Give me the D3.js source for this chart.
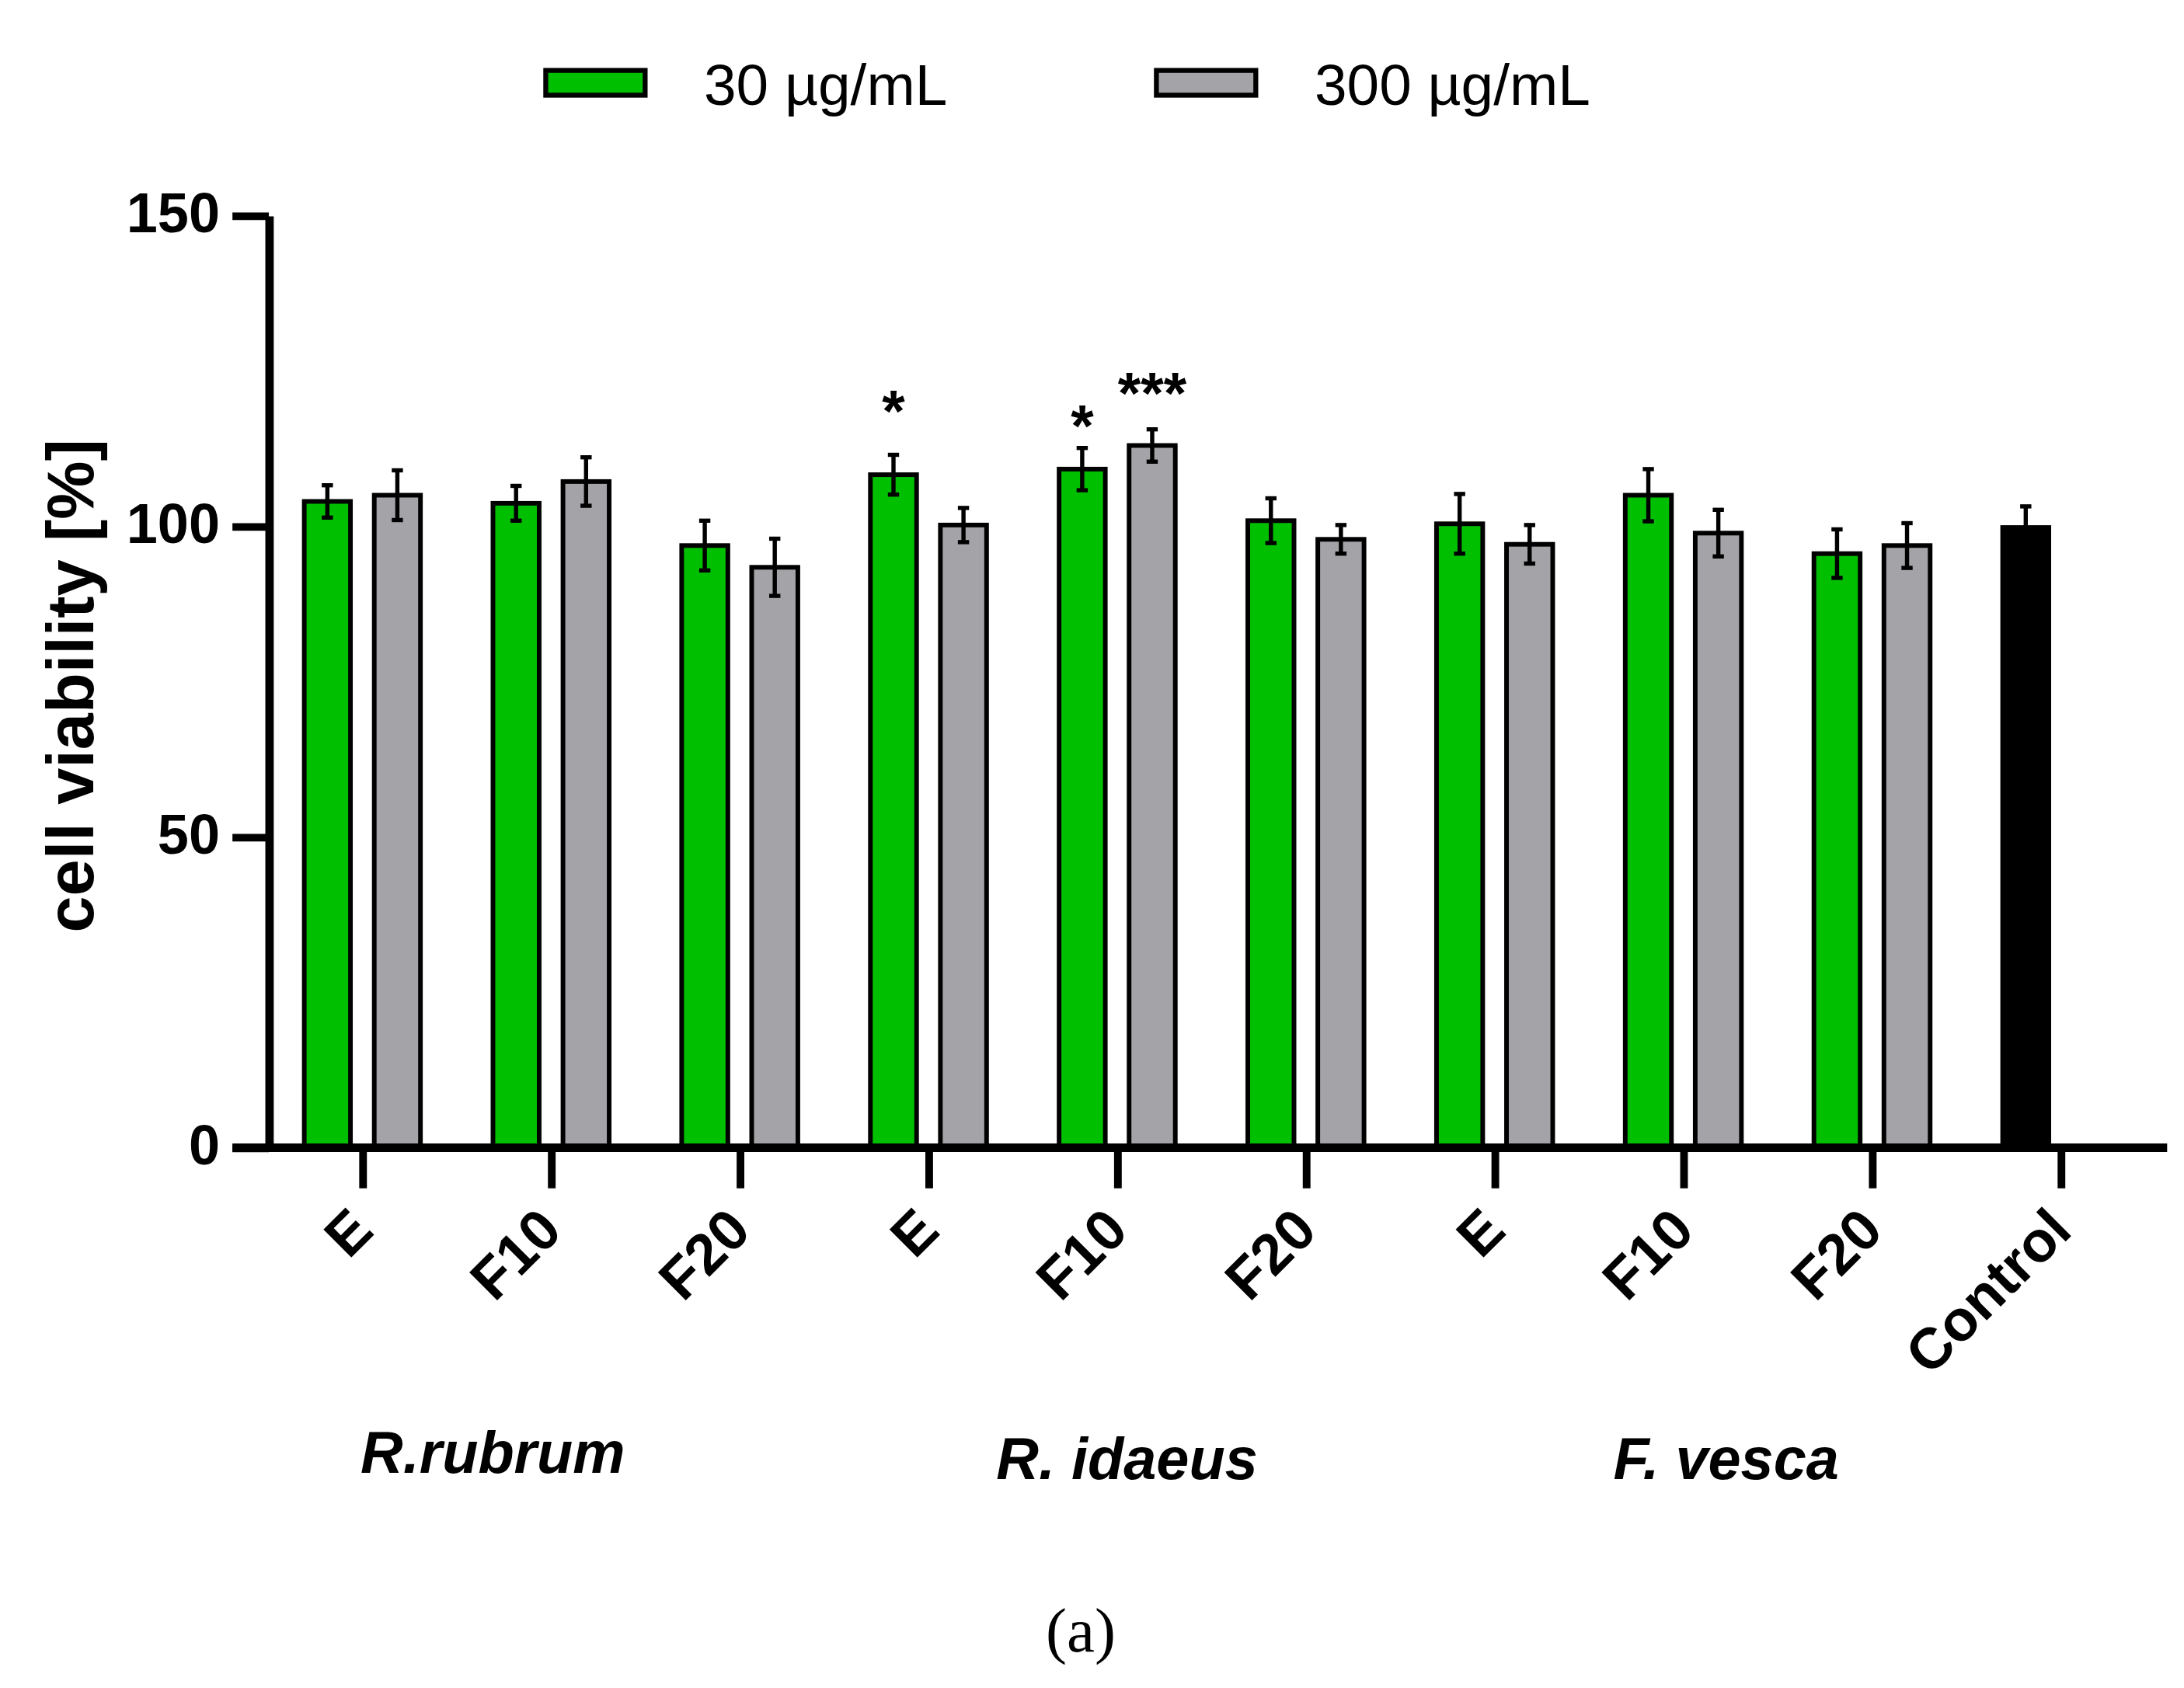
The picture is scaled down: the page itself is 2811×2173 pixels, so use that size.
<!DOCTYPE html>
<html lang="en">
<head>
  <meta charset="utf-8">
  <title>cell viability</title>
  <style>
    html, body { margin: 0; padding: 0; background: #fff; }
    text { font-family: "Liberation Sans", Arial, sans-serif; fill: #000; }
  </style>
</head>
<body>
  <div id="chart"></div>
  <script src="https://d3js.org/d3.v7.min.js"></script>
  <script>
    // data
    var tickLabels = ["E", "F10", "F20", "E", "F10", "F20", "E", "F10", "F20", "Control"];
    var groupNames = ["R.rubrum", "R. idaeus", "F. vesca"];
    var seriesNames = ["30 µg/mL", "300 µg/mL"];
    var low = [104.0, 103.7, 96.9, 108.3, 109.2, 100.9, 100.4, 105.0, 95.6];
    var lowErr = [2.6, 2.8, 4.0, 3.2, 3.4, 3.6, 4.8, 4.2, 3.9];
    var high = [105.0, 107.2, 93.4, 100.2, 113.0, 97.9, 97.1, 98.9, 96.9];
    var highErr = [4.0, 3.9, 4.6, 2.75, 2.6, 2.3, 3.1, 3.75, 3.6];
    var control = 99.8;
    var controlErr = 3.4;
    var yTicks = [0, 50, 100, 150];
    // significance marks: [category index, series, label, level]
    var marks = [[3, 0, "*", 115.3], [4, 0, "*", 112.9], [4, 1, "***", 118.2]];

    var colors = ["#00bf00", "#a3a3a8", "#000000"];

    var W = 1560, H = 1206;
    var svg = d3.select("#chart").append("svg")
      .attr("width", 2811).attr("height", 2173)
      .attr("viewBox", "0 0 " + W + " " + H);

    var idx = d3.range(tickLabels.length);
    var x = d3.scalePoint().domain(idx).range([258.8, 1472]);
    var sub = d3.scaleBand().domain([0, 1]).range([-41.5, 41.5]).paddingInner(0.34);
    var y = d3.scaleLinear().domain([0, 150]).range([820, 154]);

    // build bar rows
    var bars = [];
    low.forEach(function(v, i) {
      bars.push({ i: i, s: 0, v: v, e: lowErr[i] });
      bars.push({ i: i, s: 1, v: high[i], e: highErr[i] });
    });
    bars.push({ i: 9, s: 2, v: control, e: controlErr });

    var bw = sub.bandwidth();
    function cx(d) { return x(d.i) + sub(d.s === 2 ? 0 : d.s) + bw / 2; }

    svg.selectAll("rect.bar").data(bars).enter().append("rect")
      .attr("class", "bar")
      .attr("x", function(d) { return cx(d) - bw / 2; })
      .attr("y", function(d) { return y(d.v); })
      .attr("width", bw)
      .attr("height", function(d) { return y(0) - y(d.v); })
      .attr("fill", function(d) { return colors[d.s]; })
      .attr("stroke", "#000").attr("stroke-width", 3.3);

    // error bars
    var eb = svg.selectAll("g.err").data(bars).enter().append("g").attr("class", "err")
      .attr("stroke", "#000").attr("stroke-width", 3);
    eb.append("line")
      .attr("x1", cx).attr("x2", cx)
      .attr("y1", function(d) { return y(d.v + d.e); })
      .attr("y2", function(d) { return y(d.v - d.e); });
    eb.append("line")
      .attr("x1", function(d) { return cx(d) - 4; }).attr("x2", function(d) { return cx(d) + 4; })
      .attr("y1", function(d) { return y(d.v + d.e); }).attr("y2", function(d) { return y(d.v + d.e); });
    eb.append("line")
      .attr("x1", function(d) { return cx(d) - 4; }).attr("x2", function(d) { return cx(d) + 4; })
      .attr("y1", function(d) { return y(d.v - d.e); }).attr("y2", function(d) { return y(d.v - d.e); });

    // significance
    svg.selectAll("text.sig").data(marks).enter().append("text")
      .attr("class", "sig")
      .attr("x", function(d) { return cx({ i: d[0], s: d[1] }); })
      .attr("y", function(d) { return y(d[3]); })
      .attr("text-anchor", "middle")
      .attr("font-size", 42).attr("font-weight", "bold")
      .text(function(d) { return d[2]; });

    // y axis
    var yAxis = d3.axisLeft(y).tickValues(yTicks).tickSize(26).tickSizeOuter(0).tickPadding(9);
    var gy = svg.append("g").attr("transform", "translate(192,0)").call(yAxis);
    gy.select(".domain").attr("stroke-width", 6);
    gy.selectAll(".tick line").attr("stroke-width", 5.5);
    gy.selectAll(".tick text")
      .attr("font-family", "Liberation Sans, Arial, sans-serif")
      .attr("font-size", 40).attr("font-weight", "bold")
      .attr("dy", "0.28em");

    // x axis
    svg.append("line")
      .attr("x1", 166).attr("x2", 1548)
      .attr("y1", y(0)).attr("y2", y(0))
      .attr("stroke", "#000").attr("stroke-width", 6);
    var xAxis = d3.axisBottom(x).tickSize(29).tickFormat(function(i) { return tickLabels[i]; });
    var gx = svg.append("g").attr("transform", "translate(0," + y(0) + ")").call(xAxis);
    gx.select(".domain").remove();
    gx.selectAll(".tick line").attr("stroke-width", 5.5);
    gx.selectAll(".tick text")
      .attr("font-family", "Liberation Sans, Arial, sans-serif")
      .attr("font-size", 41).attr("font-weight", "bold")
      .attr("x", 0).attr("y", 0).attr("dy", 0)
      .attr("text-anchor", "end")
      .attr("transform", "translate(9,61) rotate(-45)");

    // y label
    svg.append("text")
      .attr("transform", "translate(66.5,490) rotate(-90)")
      .attr("text-anchor", "middle")
      .attr("font-size", 47).attr("font-weight", "bold")
      .text("cell viability [%]");

    // group labels
    var groupLabelX = [352, 805, 1233];
    var groupLabelY = [1052.5, 1056.6, 1056.6];
    svg.selectAll("text.group").data(groupNames).enter().append("text")
      .attr("class", "group")
      .attr("x", function(d, i) { return groupLabelX[i]; })
      .attr("y", function(d, i) { return groupLabelY[i]; })
      .attr("text-anchor", "middle")
      .attr("font-size", 42).attr("font-weight", "bold").attr("font-style", "italic")
      .text(function(d) { return d; });

    // legend
    var legX = [389.8, 826];
    var leg = svg.selectAll("g.leg").data(seriesNames).enter().append("g").attr("class", "leg")
      .attr("transform", function(d, i) { return "translate(" + legX[i] + ",50.3)"; });
    leg.append("rect")
      .attr("width", 71).attr("height", 17.7)
      .attr("fill", function(d, i) { return colors[i]; })
      .attr("stroke", "#000").attr("stroke-width", 3.5);
    leg.append("text")
      .attr("x", 113).attr("y", 24.5)
      .attr("font-size", 41.5)
      .text(function(d) { return d; });

    // panel letter
    svg.append("text")
      .attr("x", 772).attr("y", 1180)
      .attr("text-anchor", "middle")
      .style("font-family", "'Liberation Serif', 'Times New Roman', serif")
      .attr("font-size", 45)
      .text("(a)");
  </script>
</body>
</html>
